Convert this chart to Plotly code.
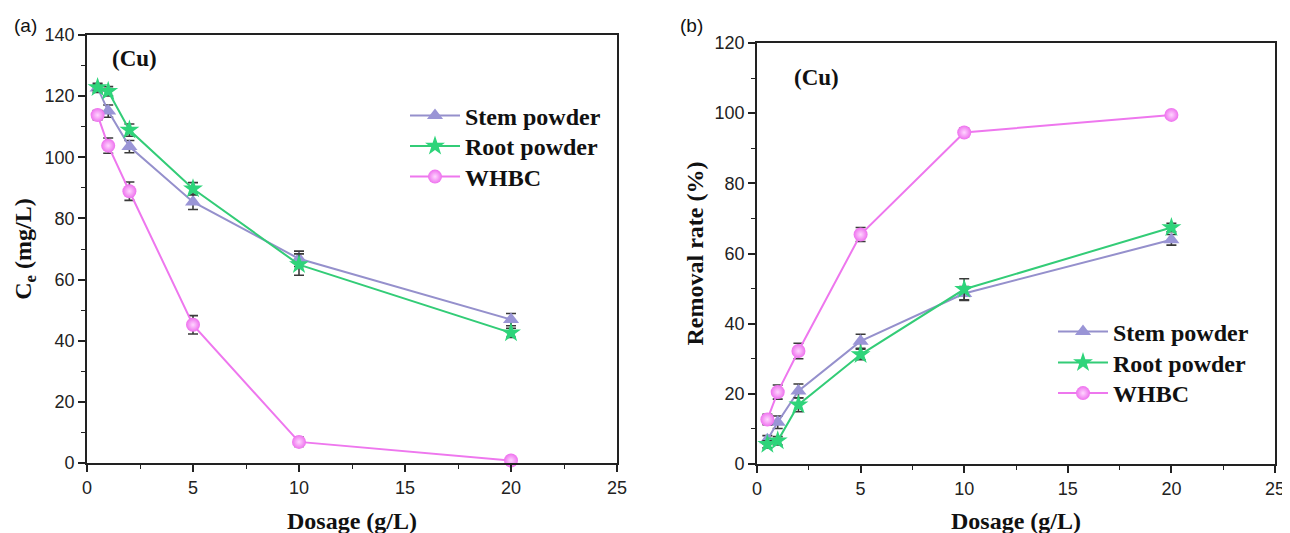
import plotly.graph_objects as go

# ---------------- data ----------------
dosage = [0.5, 1, 2, 5, 10, 20]

# panel (a): equilibrium concentration Ce (mg/L)
ce_stem = [122.7, 115.1, 103.5, 85.4, 66.8, 46.9]
ce_stem_err = [1.5, 2.0, 2.0, 2.5, 2.5, 2.0]
ce_root = [122.8, 121.6, 108.9, 89.7, 64.9, 42.6]
ce_root_err = [1.0, 1.5, 2.0, 2.0, 3.5, 1.5]
ce_whbc = [113.8, 103.8, 88.9, 45.2, 6.9, 0.8]
ce_whbc_err = [1.5, 2.5, 3.0, 3.0, 1.5, 0.7]

# panel (b): removal rate (%)
rr_stem = [6.9, 11.9, 20.8, 35.0, 48.6, 63.9]
rr_stem_err = [1.2, 1.8, 2.0, 2.0, 2.0, 1.5]
rr_root = [5.6, 6.6, 16.9, 31.2, 49.8, 67.4]
rr_root_err = [1.0, 1.2, 2.0, 1.5, 3.0, 1.2]
rr_whbc = [12.7, 20.5, 32.2, 65.4, 94.5, 99.5]
rr_whbc_err = [1.5, 2.0, 2.2, 2.0, 1.2, 0.8]

series_names = ["Stem powder", "Root powder", "WHBC"]
x_ticks = [0, 5, 10, 15, 20, 25]

# ---------------- geometry (page has an 8px body margin) ----------------
OFF = 8
W, H = 1290 - OFF, 533 - OFF


def px(x):
    return (x - OFF) / W


def py(y):
    return 1 - (y - OFF) / H


# ---------------- styles ----------------
line_colors = ["#9590cc", "#33cc77", "#ee77ee"]
marker_colors = ["#9a95d6", "#2ed47a", "#ee70ee"]
symbols = ["triangle-up", "star", "circle"]
marker_sizes = [14, 15, 14]
err_color = "#3a3a3a"

serif = "Liberation Serif, Times New Roman, serif"
sans = "Liberation Sans, Arial, sans-serif"

# legend row positions (page pixels) for each panel
legend_rows = [(405, [116, 146.5, 177]), (1053, [332, 363, 393.5])]

fig = go.Figure()

panel_a = [(ce_stem, ce_stem_err), (ce_root, ce_root_err), (ce_whbc, ce_whbc_err)]
panel_b = [(rr_stem, rr_stem_err), (rr_root, rr_root_err), (rr_whbc, rr_whbc_err)]

legend_font = dict(family=serif, size=24, color="#111", weight="bold")
legend_layouts = {}
n = 0
for p, (panel, (xa, ya)) in enumerate(zip([panel_a, panel_b], [("x", "y"), ("x2", "y2")])):
    lx, rows = legend_rows[p]
    for i, (vals, errs) in enumerate(panel):
        n += 1
        leg = "legend" if n == 1 else f"legend{n}"
        legend_layouts[leg] = dict(x=px(lx), y=py(rows[i]), xanchor="left", yanchor="middle",
                                   font=legend_font, bgcolor="rgba(0,0,0,0)",
                                   itemwidth=50, borderwidth=0)
        marker = dict(symbol=symbols[i], size=marker_sizes[i], color=marker_colors[i],
                      line=dict(width=0))
        if symbols[i] == "circle":
            marker["gradient"] = dict(type="radial", color="#ffd6ff")
        fig.add_trace(go.Scatter(
            x=dosage, y=vals, name=series_names[i], mode="lines+markers",
            xaxis=xa, yaxis=ya, legend=leg,
            line=dict(color=line_colors[i], width=2),
            marker=marker,
            error_y=dict(type="data", array=errs, visible=True, color=err_color,
                         thickness=1.6, width=5),
            cliponaxis=False,
        ))

axis_common = dict(
    showline=True, linecolor="#222", linewidth=1.8, mirror=True,
    ticks="outside", ticklen=7, tickwidth=1.5, tickcolor="#222",
    tickfont=dict(family=sans, size=18, color="#222"),
    showgrid=False, zeroline=False, automargin=False,
    ticklabeloverflow="allow",
)
minor_ticks = dict(ticks="outside", ticklen=4, tickwidth=1.3, tickcolor="#222")
title_font = dict(family=serif, size=24, color="#111", weight="bold")

fig.update_layout(
    width=W, height=H,
    margin=dict(l=0, r=0, t=0, b=0, autoexpand=False),
    plot_bgcolor="white", paper_bgcolor="white",
    showlegend=True,
    xaxis=dict(domain=[px(87), px(617)], anchor="y", range=[0, 25],
               tickvals=x_ticks, minor=dict(dtick=2.5, **minor_ticks),
               **axis_common),
    yaxis=dict(domain=[py(463), py(35)], anchor="x", range=[0, 140],
               dtick=20, minor=dict(dtick=10, **minor_ticks),
               title=dict(text="C<sub>e</sub> (mg/L)", font=title_font, standoff=6),
               **axis_common),
    xaxis2=dict(domain=[px(757), px(1275)], anchor="y2", range=[0, 25],
                tickvals=x_ticks, minor=dict(dtick=2.5, **minor_ticks),
                **axis_common),
    yaxis2=dict(domain=[py(464), py(43)], anchor="x2", range=[0, 120],
                dtick=20, minor=dict(dtick=10, **minor_ticks),
                title=dict(text="Removal rate (%)", font=title_font, standoff=4),
                **axis_common),
    annotations=[
        dict(text="Dosage (g/L)", x=px(352), y=py(521), xref="paper", yref="paper",
             xanchor="center", yanchor="middle", showarrow=False, font=title_font),
        dict(text="Dosage (g/L)", x=px(1016), y=py(521), xref="paper", yref="paper",
             xanchor="center", yanchor="middle", showarrow=False, font=title_font),
        dict(text="(a)", x=px(12), y=py(25), xref="paper", yref="paper",
             xanchor="left", yanchor="middle", showarrow=False,
             font=dict(family=sans, size=19, color="#111")),
        dict(text="(b)", x=px(678), y=py(25), xref="paper", yref="paper",
             xanchor="left", yanchor="middle", showarrow=False,
             font=dict(family=sans, size=19, color="#111")),
        dict(text="(Cu)", x=px(110), y=py(58), xref="paper", yref="paper",
             xanchor="left", yanchor="middle", showarrow=False,
             font=dict(family=serif, size=23, color="#111", weight="bold")),
        dict(text="(Cu)", x=px(792), y=py(77), xref="paper", yref="paper",
             xanchor="left", yanchor="middle", showarrow=False,
             font=dict(family=serif, size=23, color="#111", weight="bold")),
    ],
    **legend_layouts,
)

fig.write_html("out.html")
